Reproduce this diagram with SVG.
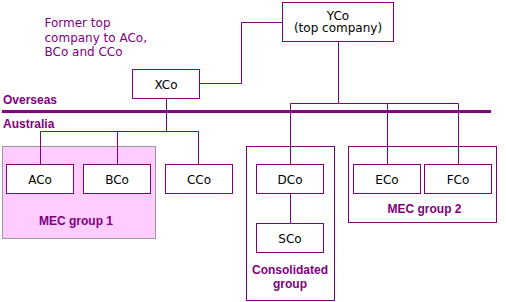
<svg xmlns="http://www.w3.org/2000/svg" width="506" height="302" viewBox="0 0 506 302">
<style>
.box{fill:#fff;stroke:#800080;stroke-width:1}
.grp{fill:none;stroke:#800080;stroke-width:1}
.lbl{font-family:"DejaVu Sans",sans-serif;font-size:12px;fill:#000;text-anchor:middle}
.note{font-family:"DejaVu Sans",sans-serif;font-size:12px;fill:#800080}
.bold{font-family:"Liberation Sans",Arial,sans-serif;font-size:12px;font-weight:bold;fill:#800080}
.mid{text-anchor:middle}
.conn{fill:none;stroke:#800080;stroke-width:1}
</style>
<rect width="506" height="302" fill="#fff"/>
<g id="mec1">
<rect x="2.5" y="146.5" width="153" height="92" fill="#ffccff" stroke="#999999" stroke-width="1"/>
<text class="bold mid" x="76" y="225">MEC group 1</text>
</g>
<g id="consolidated">
<rect class="grp" x="246.5" y="146.5" width="88" height="154"/>
<text class="bold mid" x="290" y="273.5">Consolidated</text>
<text class="bold mid" x="290" y="288">group</text>
</g>
<g id="mec2">
<rect class="grp" x="348.5" y="146.5" width="148" height="76"/>
<text class="bold mid" x="424.5" y="213">MEC group 2</text>
</g>
<g id="border">
<line x1="2" y1="111.5" x2="491" y2="111.5" stroke="#800080" stroke-width="3"/>
<text class="bold" x="3" y="104">Overseas</text>
<text class="bold" x="3" y="128">Australia</text>
</g>
<g id="note">
<text class="note" x="44.5" y="26.5">Former top</text>
<text class="note" x="44.5" y="41.5">company to ACo,</text>
<text class="note" x="44.5" y="56">BCo and CCo</text>
</g>
<g id="connectors" class="conn">
<path d="M199.5 83.5H241.5V22.5H282.5"/>
<path d="M338.5 41.5V103.5"/>
<path d="M290.5 103.5H458.5"/>
<path d="M290.5 103.5V164.5"/>
<path d="M387.5 103.5V164.5"/>
<path d="M458.5 103.5V164.5"/>
<path d="M166.5 98.5V131.5"/>
<path d="M40.5 131.5H198.5"/>
<path d="M40.5 131.5V164.5"/>
<path d="M117.5 131.5V164.5"/>
<path d="M198.5 131.5V164.5"/>
<path d="M290.5 193.5V223.5"/>
</g>
<g id="yco">
<rect class="box" x="282.5" y="2.5" width="111" height="39"/>
<text class="lbl" x="338" y="19.5">YCo</text>
<text class="lbl" x="338" y="32">(top company)</text>
</g>
<g id="xco">
<rect class="box" x="132.5" y="69.5" width="67" height="29"/>
<text class="lbl" x="166" y="88.5">XCo</text>
</g>
<g id="aco">
<rect class="box" x="6.5" y="164.5" width="67" height="29"/>
<text class="lbl" x="40" y="183.5">ACo</text>
</g>
<g id="bco">
<rect class="box" x="83.5" y="164.5" width="67" height="29"/>
<text class="lbl" x="117" y="183.5">BCo</text>
</g>
<g id="cco">
<rect class="box" x="165.5" y="164.5" width="67" height="29"/>
<text class="lbl" x="199" y="183.5">CCo</text>
</g>
<g id="dco">
<rect class="box" x="256.5" y="164.5" width="67" height="29"/>
<text class="lbl" x="290" y="183.5">DCo</text>
</g>
<g id="sco">
<rect class="box" x="256.5" y="223.5" width="67" height="29"/>
<text class="lbl" x="290" y="242.5">SCo</text>
</g>
<g id="eco">
<rect class="box" x="353.5" y="164.5" width="67" height="29"/>
<text class="lbl" x="387" y="183.5">ECo</text>
</g>
<g id="fco">
<rect class="box" x="424.5" y="164.5" width="67" height="29"/>
<text class="lbl" x="458" y="183.5">FCo</text>
</g>
</svg>
